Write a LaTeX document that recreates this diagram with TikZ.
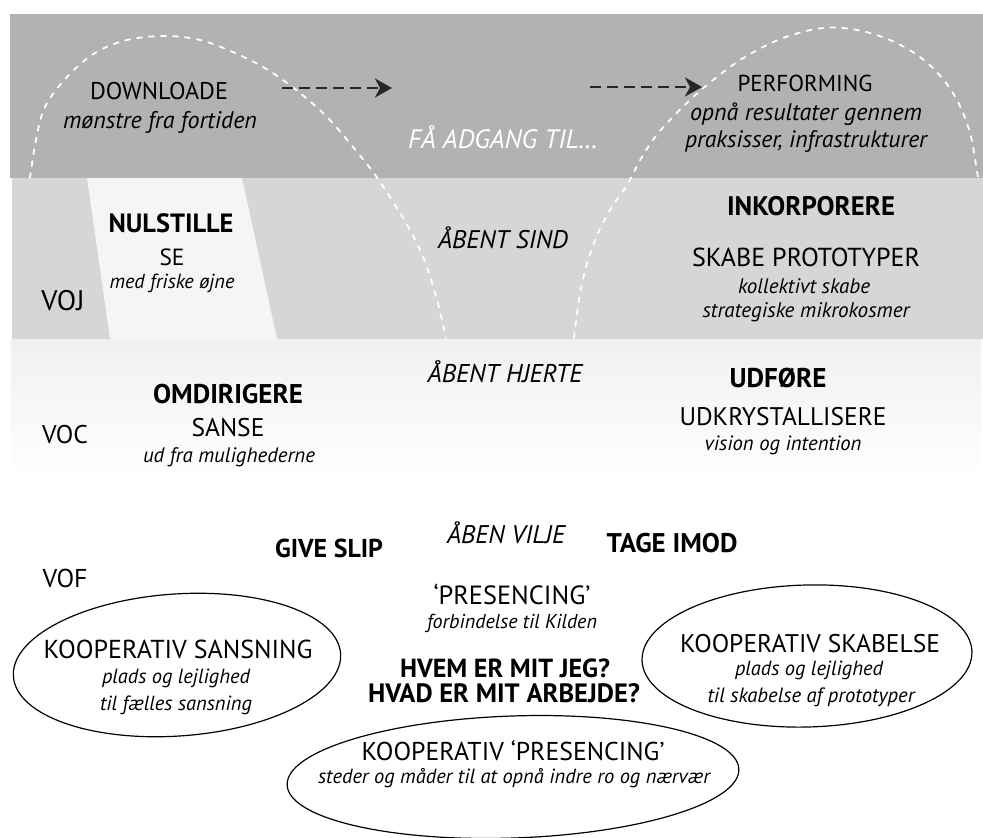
\documentclass[tikz,border=0pt]{standalone}
\usepackage{fontspec}
\setmainfont{PT Sans}
\usetikzlibrary{arrows.meta,shapes.geometric,fadings}
\definecolor{bandtop}{gray}{0.70}
\definecolor{bandmid}{gray}{0.84}
\definecolor{bandlight}{gray}{0.96}
% set #3 in shape #2 at the size that makes it #1 pt wide
\newcommand\fitto[3]{%
  \begingroup
  \setbox0=\hbox{\fontsize{10pt}{12pt}\selectfont#2#3}%
  \edef\fitwd{\the\wd0}%
  \pgfmathsetmacro\fitsize{10*#1/\fitwd}%
  \fontsize{\fitsize pt}{\fitsize pt}\selectfont#2#3%
  \endgroup}
\begin{document}
\begin{tikzpicture}[x=1pt,y=-1pt,
  lbl/.style={anchor=base,inner sep=0pt},
  bubble/.style={ellipse,draw=black,line width=1.2pt,inner sep=0pt},
  uarc/.style={white,line width=1.8pt,dash pattern=on 5pt off 7pt,line cap=round},
  flow/.style={black!85,line width=2.3pt,dash pattern=on 11pt off 6pt,
    -{Stealth[length=17pt,width=19pt,inset=5pt]}}
]
\useasboundingbox (0,0) rectangle (983,838);

% background bands
\fill[bandtop] (10,14) rectangle (983,178);
\fill[bandmid] (12,178) rectangle (983,339);
\fill[bandlight] (87,178) -- (242,178) -- (277,339) -- (110,339) -- cycle;
\fill[black!6,path fading=south] (12,339) rectangle (983,480);

% dashed white U-curve
\draw[uarc] plot[smooth,tension=0.6] coordinates {(30,178) (36,140) (45,107) (67,77) (95,53) (127,40) (165,36) (200,40) (235,53) (268,70) (300,93) (328,118) (353,147) (373,172) (392,200) (410,230) (425,262) (437,300) (446,338)};
\draw[uarc] plot[smooth,tension=0.6] coordinates {(574,338) (579,300) (586,267) (598,233) (612,207) (627,185) (642,157) (660,131) (690,100) (717,77) (745,57) (783,38) (823,28) (857,30) (890,40) (920,57) (942,78) (958,102) (970,133) (976,165) (978,178)};

% top band: downloading and performing
\node[lbl] (dl) at (159,99) {\fitto{138}{}{DOWNLOADE}};
\node[lbl] (dlsub) at (160,128) {\fitto{194}{\itshape}{mønstre fra fortiden}};
\node[lbl,white] (access) at (503,148) {\fitto{190}{\itshape}{FÅ ADGANG TIL…}};
\node[lbl] (perf) at (805,91) {\fitto{135}{}{PERFORMING}};
\node[lbl] (perfa) at (806,120) {\fitto{232}{\itshape}{opnå resultater gennem}};
\node[lbl] (perfb) at (806,147) {\fitto{242}{\itshape}{praksisser, infrastrukturer}};
\coordinate (a1s) at (282,88);
\coordinate (a1e) at (392,88);
\coordinate (a2s) at (590,87);
\coordinate (a2e) at (702,87);
\draw[flow] (a1s) -- (a1e);
\draw[flow] (a2s) -- (a2e);

% level of the open mind
\node[lbl] (nul) at (171,232) {\fitto{125}{\bfseries}{NULSTILLE}};
\node[lbl] (se) at (172,265) {\fitto{25}{}{SE}};
\node[lbl] (sesub) at (172,288) {\fitto{125}{\itshape}{med friske øjne}};
\node[lbl] (voj) at (63,310) {\fitto{43}{}{VOJ}};
\node[lbl] (mind) at (503,248) {\fitto{130}{\itshape}{ÅBENT SIND}};
\node[lbl] (ink) at (811,215) {\fitto{168}{\bfseries}{INKORPORERE}};
\node[lbl] (proto) at (806,266) {\fitto{228}{}{SKABE PROTOTYPER}};
\node[lbl] (protoa) at (804,293) {\fitto{132}{\itshape}{kollektivt skabe}};
\node[lbl] (protob) at (806,317) {\fitto{207}{\itshape}{strategiske mikrokosmer}};

% level of the open heart
\node[lbl] (heart) at (505,382) {\fitto{155}{\itshape}{ÅBENT HJERTE}};
\node[lbl] (omd) at (228,403) {\fitto{150}{\bfseries}{OMDIRIGERE}};
\node[lbl] (sanse) at (228,436) {\fitto{73}{}{SANSE}};
\node[lbl] (sansesub) at (229,462) {\fitto{172}{\itshape}{ud fra mulighederne}};
\node[lbl] (voc) at (65,443) {\fitto{46}{}{VOC}};
\node[lbl] (udf) at (778,387) {\fitto{97}{\bfseries}{UDFØRE}};
\node[lbl] (udk) at (783,425) {\fitto{207}{}{UDKRYSTALLISERE}};
\node[lbl] (udksub) at (783,450) {\fitto{157}{\itshape}{vision og intention}};

% level of the open will
\node[lbl] (give) at (329,557) {\fitto{108}{\bfseries}{GIVE SLIP}};
\node[lbl] (will) at (506,543) {\fitto{118}{\itshape}{ÅBEN VILJE}};
\node[lbl] (tage) at (672,552) {\fitto{131}{\bfseries}{TAGE IMOD}};
\node[lbl] (vof) at (65,587) {\fitto{45}{}{VOF}};
\node[lbl] (pres) at (512,604) {\fitto{157}{}{‘PRESENCING’}};
\node[lbl] (pressub) at (512,628) {\fitto{170}{\itshape}{forbindelse til Kilden}};
\node[lbl] (hvem) at (505,677) {\fitto{210}{\bfseries}{HVEM ER MIT JEG?}};
\node[lbl] (hvad) at (504,702) {\fitto{272}{\bfseries}{HVAD ER MIT ARBEJDE?}};

% cooperative spaces
\node[bubble,minimum width=328pt,minimum height=142pt,rotate=4] (e1) at (177,665) {};
\node[lbl] (ks) at (178,658) {\fitto{269}{}{KOOPERATIV SANSNING}};
\node[lbl] (ksa) at (176,683) {\fitto{148}{\itshape}{plads og lejlighed}};
\node[lbl] (ksb) at (176,710) {\fitto{152}{\itshape}{til fælles sansning}};

\node[bubble,minimum width=330pt,minimum height=142pt,rotate=1.5] (e2) at (807,656) {};
\node[lbl] (kk) at (810,652) {\fitto{260}{}{KOOPERATIV SKABELSE}};
\node[lbl] (kka) at (809,675) {\fitto{148}{\itshape}{plads og lejlighed}};
\node[lbl] (kkb) at (811,702) {\fitto{207}{\itshape}{til skabelse af prototyper}};

\node[bubble,minimum width=452pt,minimum height=122pt,rotate=2] (e3) at (513,777) {};
\node[lbl] (kp) at (513,760) {\fitto{303}{}{KOOPERATIV ‘PRESENCING’}};
\node[lbl] (kpa) at (514,783) {\fitto{392}{\itshape}{steder og måder til at opnå indre ro og nærvær}};
\end{tikzpicture}
\end{document}
